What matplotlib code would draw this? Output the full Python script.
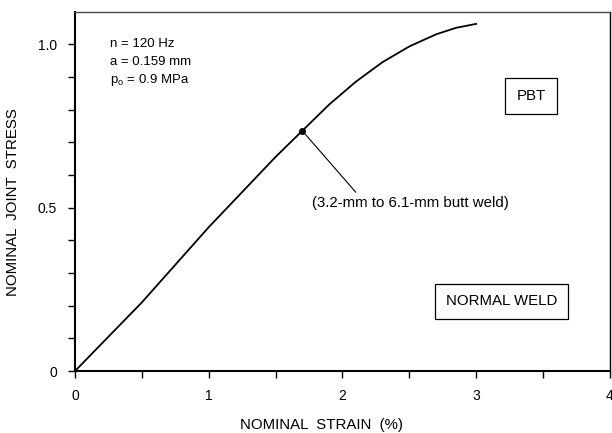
import matplotlib
matplotlib.use("Agg")
import matplotlib.pyplot as plt
from matplotlib.ticker import MultipleLocator, FixedLocator

plt.rcParams.update({"font.family": "Liberation Sans", "font.size": 10,
                     "mathtext.fontset": "custom", "mathtext.rm": "Liberation Sans",
                     "mathtext.it": "Liberation Sans"})

# curve (strain in %, normalised joint stress)
strain = [0, 0.5, 1.0, 1.5, 1.7, 1.9, 2.1, 2.3, 2.5, 2.7, 2.85, 3.0]
stress = [0, 0.21, 0.44, 0.655, 0.735, 0.815, 0.885, 0.945, 0.993, 1.03, 1.05, 1.062]
marked = (1.7, 0.735)   # butt weld point
params = ["n = 120 Hz", "a = 0.159 mm", "p$_{\\mathregular{o}}$ = 0.9 MPa"]

fig = plt.figure(figsize=(6.12, 4.33), dpi=100)
ax = fig.add_axes([0.1225, 0.143, 0.874, 0.829])
ax.plot(strain, stress, color="black", lw=1.3)
ax.plot(*marked, "o", color="black", ms=4)

ax.set_xlim(0, 4)
ax.set_ylim(0, 1.098)
ax.xaxis.set_major_locator(MultipleLocator(1))
ax.xaxis.set_minor_locator(MultipleLocator(0.5))
ax.yaxis.set_major_locator(FixedLocator([0, 0.5, 1.0]))
ax.yaxis.set_minor_locator(MultipleLocator(0.1))
ax.set_yticklabels(["0", "0.5", "1.0"])
ax.tick_params(which="both", direction="out", length=5, width=1.0, labelsize=10)
ax.tick_params(axis="x", pad=8)
ax.tick_params(axis="y", pad=8)
ax.spines["left"].set_linewidth(1.5)
ax.spines["bottom"].set_linewidth(1.5)
ax.spines["top"].set_linewidth(1.0)
ax.spines["right"].set_linewidth(1.0)
ax.spines["top"].set_color("#444444")

ax.set_xlabel("NOMINAL  STRAIN  (%)", fontsize=10.8)
ax.xaxis.set_label_coords(0.46, -0.132)
ax.set_ylabel("NOMINAL  JOINT  STRESS", fontsize=10.8)
ax.yaxis.set_label_coords(-0.103, 0.471)

for i, s in enumerate(params):
    ax.text(0.26, 1.0 - i * 0.055, s, fontsize=9.5, va="center", ha="left")

ax.text(3.41, 0.841, "PBT", fontsize=10.8, ha="center", va="center",
        bbox=dict(boxstyle="square,pad=0.75", fc="white", ec="black", lw=0.9))
ax.text(3.19, 0.214, "NORMAL WELD", fontsize=10.8, ha="center", va="center",
        bbox=dict(boxstyle="square,pad=0.7", fc="white", ec="black", lw=0.9))

ax.annotate("", xy=marked, xytext=(2.10, 0.547),
            arrowprops=dict(arrowstyle="-", color="black", lw=0.8,
                            shrinkA=0, shrinkB=0))
ax.text(2.51, 0.514, "(3.2-mm to 6.1-mm butt weld)", fontsize=10.8,
        ha="center", va="center")

fig.savefig("out.png", dpi=100)
